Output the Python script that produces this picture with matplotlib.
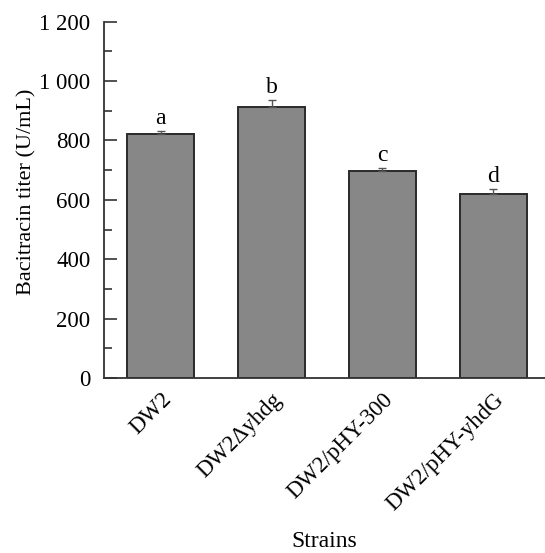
import matplotlib.pyplot as plt
from matplotlib.ticker import FuncFormatter, MultipleLocator

strains = ['DW2', 'DW2\u0394yhdg', 'DW2/pHY-300', 'DW2/pHY-yhdG']
titer = [822, 914, 697, 618]
err = [11, 23, 11, 18]
letters = ['a', 'b', 'c', 'd']

plt.rcParams['font.family'] = ['Liberation Serif', 'DejaVu Serif']

fig = plt.figure(figsize=(5.45, 5.53), dpi=100)
ax = fig.add_axes([0.1914, 0.3165, 0.8086, 0.6443])

x = range(len(strains))
ax.bar(x, titer, width=0.61, color='#878787', edgecolor='#2a2a2a', linewidth=1.4, zorder=2)
ax.errorbar(x, titer, yerr=[[0] * len(err), err], fmt='none', ecolor='#555555',
            elinewidth=1, capsize=3, capthick=1, zorder=3)
for xi, v, e, lab in zip(x, titer, err, letters):
    ax.annotate(lab, (xi, v + e), xytext=(0, 5), textcoords='offset points',
                ha='center', va='baseline', fontsize=17)

ax.set_xlim(-0.508, 3.466)
ax.set_ylim(0, 1200)
ax.yaxis.set_major_locator(MultipleLocator(200))
ax.yaxis.set_minor_locator(MultipleLocator(100))
ax.yaxis.set_major_formatter(FuncFormatter(lambda v, p: f'{int(v):,}'.replace(',', ' ')))
ax.tick_params(axis='y', which='major', direction='in', length=9, width=1.2,
               labelsize=16.5, pad=10, color='#333333')
ax.tick_params(axis='y', which='minor', direction='in', length=6, width=1.2, color='#333333')
ax.tick_params(axis='x', length=0, labelsize=16.5, pad=8)
ax.set_xticks(list(x))
ax.set_xticklabels(strains, rotation=45, ha='right', rotation_mode='anchor')

ax.spines['top'].set_visible(False)
ax.spines['right'].set_visible(False)
for side in ['left', 'bottom']:
    ax.spines[side].set_color('#333333')
    ax.spines[side].set_linewidth(1.3)

ax.set_ylabel('Bacitracin titer (U/mL)', fontsize=16)
ax.yaxis.set_label_coords(-0.153, 0.523)
ax.set_xlabel('Strains', fontsize=17, labelpad=12)

fig.savefig('out.png', dpi=100)
